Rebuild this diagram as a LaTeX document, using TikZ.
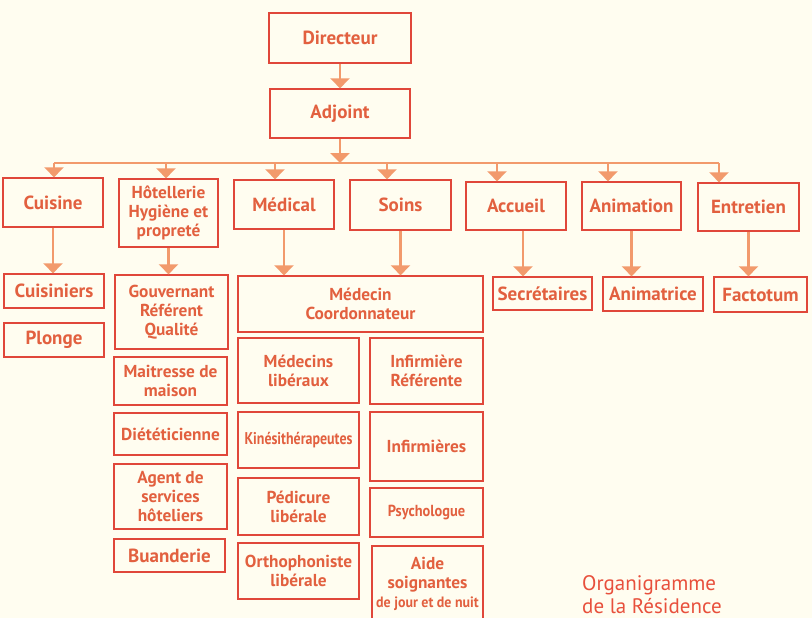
\documentclass[tikz,border=0pt]{standalone}
\usepackage{fontspec}
\setmainfont{PT Sans}
\usetikzlibrary{arrows.meta}
\definecolor{bgc}{HTML}{FFFDF0}
\definecolor{boxc}{HTML}{E0473A}
\definecolor{txtc}{HTML}{E2603F}
\definecolor{arrc}{HTML}{F29A6C}
\definecolor{titc}{HTML}{E8503C}
\newcommand\bxfont{\bfseries\fontsize{17.3}{18.8}\selectfont}
\newcommand\bigfont{\bfseries\fontsize{19}{20}\selectfont}
\newcommand\bx[7][]{\node[box,#1,minimum width={#5pt-#3pt},minimum height={#6pt-#4pt}] (#2) at ({(#3+#5)/2},{(#4+#6)/2}) {#7};}
\tikzset{
  box/.style={draw=boxc, line width=1.3pt, text=txtc, font=\bxfont, align=center, inner sep=1pt},
  big/.style={font=\bigfont},
  arr/.style={draw=arrc, line width=2.4pt, -{Triangle[width=19pt,length=10pt]}},
  ln/.style={draw=arrc, line width=2.2pt}
}
\begin{document}
\begin{tikzpicture}[x=1pt,y=-1pt]
\clip (0,0) rectangle (812,618);
\fill[bgc] (0,0) rectangle (812,618);
% top
\bx[big]{dir}{269}{13}{411}{63}{Directeur}
\bx[big]{adj}{270}{89}{410}{138}{Adjoint}
% row 2
\bx[big]{cuis}{3}{178}{103}{227}{Cuisine}
\bx{hot}{119}{179}{218}{247}{Hôtellerie\\Hygiène et\\propreté}
\bx[big]{med}{234}{180}{334}{229}{Médical}
\bx[big]{soins}{350}{180}{451}{230}{Soins}
\bx[big]{acc}{466}{182}{566}{230}{Accueil}
\bx[big]{anim}{582}{182}{681}{230}{Animation}
\bx[big]{ent}{698}{183}{799}{231}{Entretien}
% row 3
\bx[big]{cuisi}{4}{274}{104}{308}{Cuisiniers}
\bx[big]{plonge}{4}{323}{104}{357}{Plonge}
\bx{gouv}{115}{275}{228}{349}{Gouvernant\\Référent\\Qualité}
\bx{mait}{114}{357}{227}{405}{Maitresse de\\maison}
\bx{diet}{114}{413}{227}{455}{Diététicienne}
\bx{agent}{114}{464}{227}{529}{Agent de\\services\\hôteliers}
\bx[big]{buand}{114}{539}{225}{572}{Buanderie}
\bx{mc}{238}{276}{483}{332}{Médecin\\Coordonnateur}
\bx{medlib}{238}{338}{359}{403}{Médecins\\libéraux}
\bx{infref}{370}{338}{483}{404}{Infirmière\\Référente}
\bx{kine}{238}{412}{359}{468}{\scalebox{0.82}[1]{\fontsize{17}{18}\selectfont Kinésithérapeutes}}
\bx{inf}{370}{412}{483}{481}{Infirmières}
\bx{pedi}{238}{478}{359}{535}{Pédicure\\libérale}
\bx{psy}{370}{488}{483}{537}{\scalebox{0.9}[1]{\fontsize{16}{18}\selectfont Psychologue}}
\bx{ortho}{238}{543}{359}{599}{Orthophoniste\\libérale}
\bx{aide}{372}{546}{483}{622}{Aide\\soignantes\\\scalebox{0.93}[1]{\fontsize{15}{17}\selectfont de jour et de nuit}}
\bx[big]{secr}{493}{277}{592}{310}{Secrétaires}
\bx[big]{animr}{603}{277}{703}{311}{Animatrice}
\bx[big]{fact}{714}{277}{807}{312}{Factotum}
% title
\node[anchor=base west, align=left, text=titc, font=\fontsize{21}{22.5}\selectfont, inner sep=0pt] (title) at (582,613) {Organigramme\\de la Résidence};
% connectors
\coordinate (bus) at (340,163);
\coordinate (d1) at (54,163);
\coordinate (d2) at (166,163);
\coordinate (d3) at (275,163);
\coordinate (d4) at (387,163);
\coordinate (d5) at (497,163);
\coordinate (d6) at (608,163);
\coordinate (d7) at (719,163);
\draw[arr] (dir) -- (adj);
\draw[ln] (d1) -- (d7);
\draw[arr] (adj) -- (bus);
\draw[arr] (d1) -- (d1 |- cuis.north);
\draw[arr] (d2) -- (d2 |- hot.north);
\draw[arr] (d3) -- (d3 |- med.north);
\draw[arr] (d4) -- (d4 |- soins.north);
\draw[arr] (d5) -- (d5 |- acc.north);
\draw[arr] (d6) -- (d6 |- anim.north);
\draw[arr] (d7) -- (d7 |- ent.north);
\draw[arr] (cuis.south) -- (cuis.south |- cuisi.north);
\draw[arr] (hot.south) -- (hot.south |- gouv.north);
\draw[arr] (med.south) -- (med.south |- mc.north);
\draw[arr] (soins.south) -- (soins.south |- mc.north);
\draw[arr] ([xshift=7pt]acc.south) -- ([xshift=7pt]acc.south |- secr.north);
\draw[arr] (anim.south) -- (anim.south |- animr.north);
\draw[arr] (ent.south) -- (ent.south |- fact.north);
\end{tikzpicture}
\end{document}
